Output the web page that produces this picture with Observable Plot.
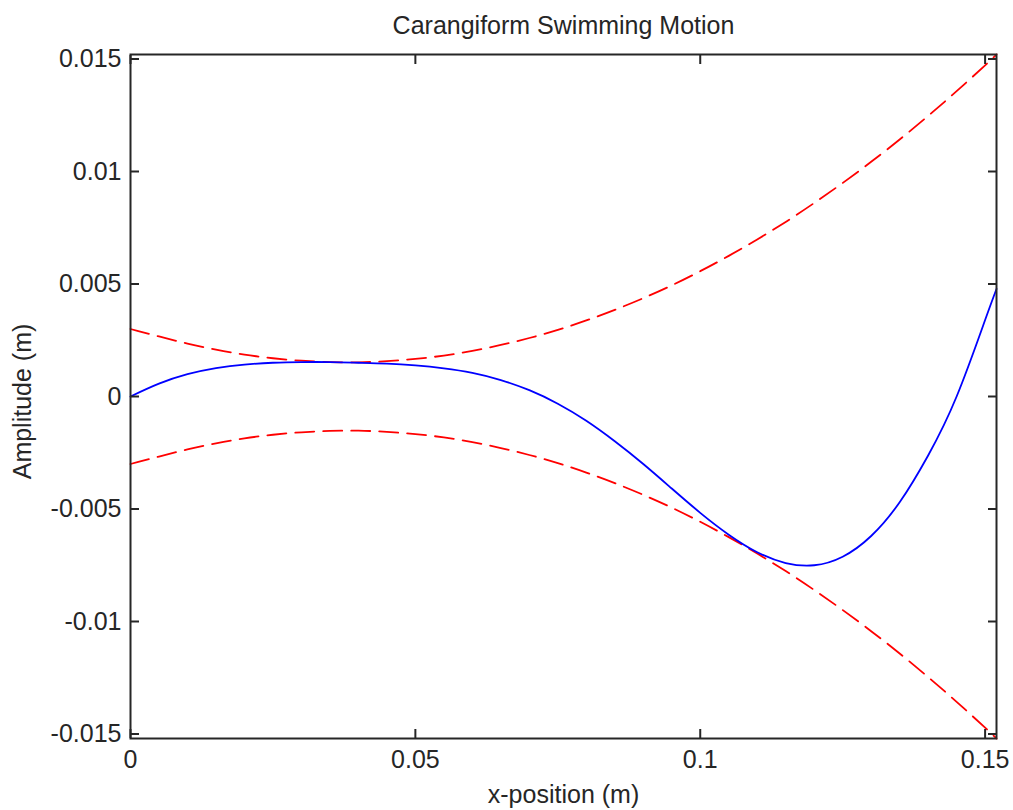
<!DOCTYPE html>
<html>
<head>
<meta charset="utf-8">
<script src="https://cdn.jsdelivr.net/npm/d3@7"></script>
<script src="https://cdn.jsdelivr.net/npm/@observablehq/plot@0.6"></script>
<style>
  html, body { margin: 0; padding: 0; background: #fff; }
  #chart svg { display: block; }
</style>
</head>
<body>
<div id="chart"></div>
<script>
// x-positions along the body (m)
const xPos = [0, 0.005, 0.01, 0.015, 0.02, 0.025, 0.03, 0.035, 0.04, 0.045, 0.05, 0.055, 0.06, 0.065, 0.07, 0.075, 0.08, 0.085, 0.09, 0.095, 0.1, 0.105, 0.11, 0.115, 0.12, 0.125, 0.13, 0.135, 0.14, 0.145, 0.15, 0.152];
// upper amplitude envelope (m)
const envelopeUpper = [0.00300, 0.00267, 0.00235, 0.00208, 0.00186, 0.00170, 0.00159, 0.00153, 0.00152, 0.00157, 0.00167, 0.00182, 0.00203, 0.00229, 0.00260, 0.00296, 0.00338, 0.00385, 0.00437, 0.00494, 0.00557, 0.00625, 0.00698, 0.00776, 0.00860, 0.00949, 0.01043, 0.01142, 0.01247, 0.01357, 0.01472, 0.01520];
// lower amplitude envelope (m)
const envelopeLower = [-0.00300, -0.00267, -0.00235, -0.00208, -0.00186, -0.00170, -0.00159, -0.00153, -0.00152, -0.00157, -0.00167, -0.00182, -0.00203, -0.00229, -0.00260, -0.00296, -0.00338, -0.00385, -0.00437, -0.00494, -0.00557, -0.00625, -0.00698, -0.00776, -0.00860, -0.00949, -0.01043, -0.01142, -0.01247, -0.01357, -0.01472, -0.01520];
// body midline displacement (m)
const bodyWave = [0.00000, 0.00057, 0.00099, 0.00126, 0.00142, 0.00150, 0.00153, 0.00153, 0.00150, 0.00146, 0.00138, 0.00125, 0.00105, 0.00073, 0.00028, -0.00032, -0.00108, -0.00199, -0.00300, -0.00409, -0.00517, -0.00614, -0.00692, -0.00740, -0.00750, -0.00712, -0.00620, -0.00470, -0.00262, 0.00000, 0.00340, 0.00478];

const xTicks = [0, 0.05, 0.1, 0.15];
const xTickLabels = ["0", "0.05", "0.1", "0.15"];
const yTicks = [-0.015, -0.01, -0.005, 0, 0.005, 0.01, 0.015];
const yTickLabels = ["-0.015", "-0.01", "-0.005", "0", "0.005", "0.01", "0.015"];

const xDomain = [0, 0.152];
const yDomain = [-0.0152, 0.0152];

const titleText = "Carangiform Swimming Motion";
const xLabelText = "x-position (m)";
const yLabelText = "Amplitude (m)";

const rows = xPos.map((x, i) => ({x, upper: envelopeUpper[i], lower: envelopeLower[i], body: bodyWave[i]}));

const ink = "#262626";
const fs = 25;
const fxLabel = d => xTickLabels[xTicks.indexOf(d)];
const fyLabel = d => yTickLabels[yTicks.indexOf(d)];

const chart = Plot.plot({
  width: 1013,
  height: 810,
  marginLeft: 130,
  marginRight: 17,
  marginTop: 54,
  marginBottom: 72,
  style: {fontFamily: "'Liberation Sans', Arial, sans-serif", fontSize: fs + "px", color: ink, background: "#fff"},
  x: {domain: xDomain},
  y: {domain: yDomain},
  marks: [
    Plot.line(rows, {x: "x", y: "upper", stroke: "#ff0000", strokeWidth: 1.8, strokeDasharray: "19,9", curve: "natural"}),
    Plot.line(rows, {x: "x", y: "lower", stroke: "#ff0000", strokeWidth: 1.8, strokeDasharray: "19,9", curve: "natural"}),
    Plot.line(rows, {x: "x", y: "body", stroke: "#0000ff", strokeWidth: 1.8, curve: "natural"}),
    Plot.frame({stroke: ink, strokeWidth: 2}),
    Plot.axisX(xTicks, {anchor: "bottom", tickSize: -9, tickPadding: 21, tickFormat: fxLabel, fontSize: fs, stroke: ink, fill: ink, strokeWidth: 2, label: null}),
    Plot.axisX(xTicks, {anchor: "top", tickSize: -9, tickFormat: () => "", stroke: ink, strokeWidth: 2, label: null}),
    Plot.axisY(yTicks, {anchor: "left", tickSize: -9, tickPadding: 18, tickFormat: fyLabel, fontSize: fs, stroke: ink, fill: ink, strokeWidth: 2, label: null}),
    Plot.axisY(yTicks, {anchor: "right", tickSize: -9, tickFormat: () => "", stroke: ink, strokeWidth: 2, label: null}),
    Plot.text([titleText], {frameAnchor: "top", dy: -21, lineAnchor: "bottom", fontSize: fs, fill: ink}),
    Plot.text([xLabelText], {frameAnchor: "bottom", dy: 64, lineAnchor: "bottom", fontSize: fs, fill: ink}),
    Plot.text([yLabelText], {frameAnchor: "left", dx: -108, dy: 5, rotate: -90, textAnchor: "middle", lineAnchor: "middle", fontSize: fs, fill: ink})
  ]
});
document.getElementById("chart").appendChild(chart);
</script>
</body>
</html>
